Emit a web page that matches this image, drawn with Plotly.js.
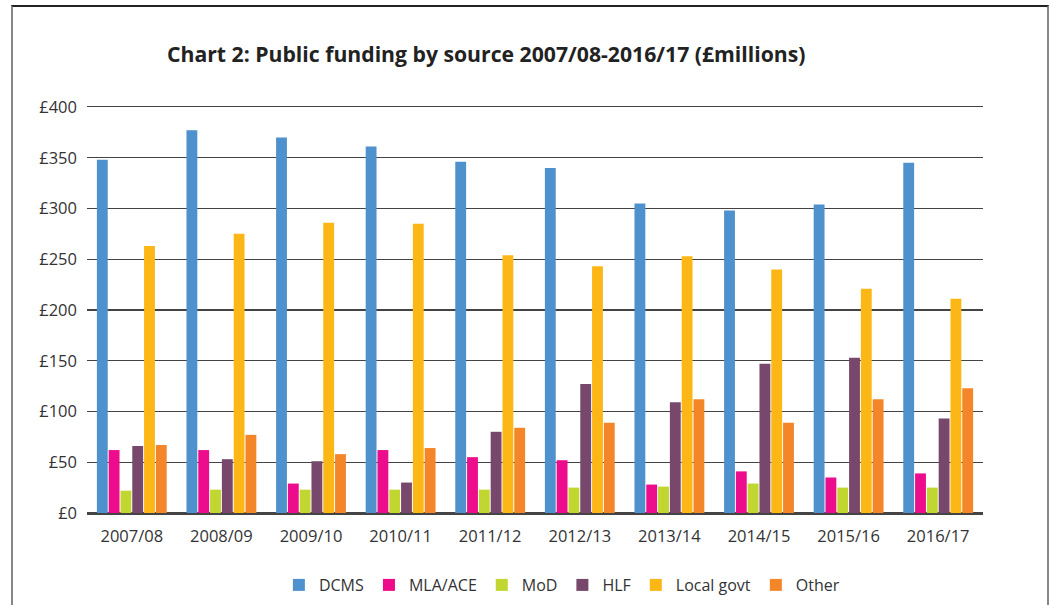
<!DOCTYPE html>
<html>
<head>
<meta charset="utf-8">
<script src="https://cdn.plot.ly/plotly-3.0.1.min.js"></script>
<style>
  html, body { margin: 0; padding: 0; background: #fff; }
  #wrap { position: relative; width: 1049px; height: 605px; }
  #chart { width: 1049px; height: 605px; }
  #frame { position: absolute; left: 11px; top: 5px; width: 1034px; height: 620px;
           border-top: 2px solid #222; border-left: 2px solid #888; border-right: 2px solid #888;
           pointer-events: none; }
</style>
</head>
<body>
<div id="wrap">
  <div id="chart"></div>
  <div id="frame"></div>
</div>
<script>
const years = ["2007/08","2008/09","2009/10","2010/11","2011/12","2012/13","2013/14","2014/15","2015/16","2016/17"];
const dcms     = [348, 377, 370, 361, 346, 340, 305, 298, 304, 345];
const mlaAce   = [62, 62, 29, 62, 55, 52, 28, 41, 35, 39];
const mod      = [22, 23, 23, 23, 23, 25, 26, 29, 25, 25];
const hlf      = [66, 53, 51, 30, 80, 127, 109, 147, 153, 93];
const localGov = [263, 275, 286, 285, 254, 243, 253, 240, 221, 211];
const other    = [67, 77, 58, 64, 84, 89, 112, 89, 112, 123];

const seriesNames  = ["DCMS", "MLA/ACE", "MoD", "HLF", "Local govt", "Other"];
const seriesValues = [dcms, mlaAce, mod, hlf, localGov, other];
const seriesColors = ["#4F91CD", "#EC0C8C", "#C2D631", "#77486B", "#FCB716", "#F38628"];

const traces = seriesNames.map((n, i) => ({
  type: "bar",
  name: n,
  x: years,
  y: seriesValues[i],
  marker: { color: seriesColors[i] },
  hoverinfo: "x+y+name"
}));

const font = "Open Sans, Noto Sans, sans-serif";

const layout = {
  width: 1049,
  height: 605,
  margin: { l: 87, r: 66, t: 107, b: 92, autoexpand: false },
  paper_bgcolor: "#fff",
  plot_bgcolor: "#fff",
  barmode: "group",
  bargap: 0.21,
  bargroupgap: 0.08,
  font: { family: font, color: "#333", size: 16 },
  title: {
    text: "<b>Chart 2: Public funding by source 2007/08-2016/17 (£millions)</b>",
    font: { family: font, size: 21.2, color: "#222" },
    xref: "container", yref: "container",
    x: 167 / 1049, xanchor: "left",
    y: 1 - 55 / 605, yanchor: "middle"
  },
  xaxis: {
    type: "category",
    showgrid: false,
    showline: true,
    mirror: true,
    linecolor: "#444",
    linewidth: 1.5,
    ticks: "",
    tickfont: { family: font, size: 16.5, color: "#333" },
    ticklabelstandoff: 8
  },
  yaxis: {
    range: [0, 400],
    dtick: 50,
    tick0: 0,
    tickprefix: "£",
    showgrid: true,
    gridcolor: "#444",
    gridwidth: 1.4,
    zeroline: true,
    zerolinecolor: "#444",
    zerolinewidth: 1.5,
    ticks: "",
    ticklabelstandoff: 9,
    tickfont: { family: font, size: 16.5, color: "#333" }
  },
  showlegend: true,
  legend: {
    orientation: "h",
    xref: "paper", yref: "container",
    x: 0.53, xanchor: "center",
    y: 1 - 585 / 605, yanchor: "middle",
    font: { family: font, size: 16, color: "#333" },
    itemwidth: 30,
    traceorder: "normal"
  }
};

Plotly.newPlot("chart", traces, layout, { displayModeBar: false, staticPlot: true });
</script>
</body>
</html>
